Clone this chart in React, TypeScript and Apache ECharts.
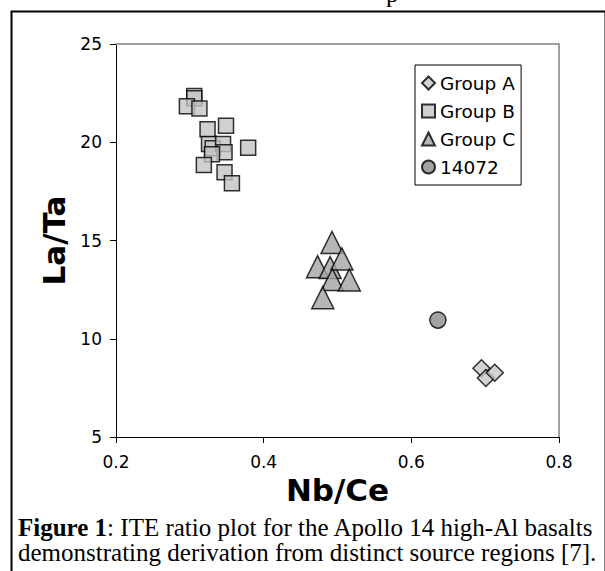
import React, { useEffect, useRef } from "react";
import * as echarts from "echarts";

const groupA: number[][] = [
  [0.695, 8.5],
  [0.701, 8.0],
  [0.713, 8.27],
];
const groupB: number[][] = [
  [0.306, 22.35],
  [0.306, 22.24],
  [0.296, 21.83],
  [0.313, 21.72],
  [0.324, 20.66],
  [0.349, 20.84],
  [0.326, 19.91],
  [0.331, 19.69],
  [0.345, 19.91],
  [0.347, 19.49],
  [0.33, 19.39],
  [0.379, 19.72],
  [0.319, 18.84],
  [0.347, 18.47],
  [0.357, 17.91],
];
const groupC: number[][] = [
  [0.4926, 14.9],
  [0.473, 13.67],
  [0.49, 13.62],
  [0.506, 14.06],
  [0.493, 13.01],
  [0.516, 12.99],
  [0.48, 12.09],
];
const sample14072: number[][] = [[0.636, 10.95]];

const seriesNames = ["Group A", "Group B", "Group C", "14072"];
const xTicks = { min: 0.2, max: 0.8, interval: 0.2 };
const yTicks = { min: 5, max: 25, interval: 5 };
const xTitle = "Nb/Ce";
const yTitle = "La/Ta";
const captionBold = "Figure 1";
const captionLine1 = ": ITE ratio plot for the Apollo 14 high-Al basalts";
const captionLine2 = "demonstrating derivation from distinct source regions [7].";
const clippedText = "p";

export default function App() {
  const ref = useRef<HTMLDivElement>(null);
  useEffect(() => {
    if (!ref.current) return;
    const chart = echarts.init(ref.current, undefined, { renderer: "svg" });
    const tickFont = { fontFamily: "DejaVu Sans", fontSize: 17, color: "#000" };
    const border = { borderColor: "#000", borderWidth: 1.5 };
    chart.setOption({
      animation: false,
      backgroundColor: "#fff",
      grid: { left: 116, top: 44, right: 46, bottom: 134, containLabel: false },
      xAxis: [
        {
          type: "value",
          min: xTicks.min,
          max: xTicks.max,
          interval: xTicks.interval,
          axisLine: { show: true, onZero: false, lineStyle: { color: "#000", width: 1 } },
          axisTick: { show: true, length: 6, lineStyle: { color: "#000" } },
          axisLabel: { ...tickFont, margin: 16, formatter: (v: number) => v.toFixed(1) },
          splitLine: { show: false },
          name: xTitle,
          nameLocation: "middle",
          nameGap: 35,
          nameTextStyle: { fontFamily: "DejaVu Sans", fontWeight: "bold", fontSize: 31, color: "#000" },
        },
        {
          type: "value",
          position: "top",
          min: xTicks.min,
          max: xTicks.max,
          axisLine: { show: true, onZero: false, lineStyle: { color: "#a0a0a0", width: 2 } },
          axisTick: { show: false },
          axisLabel: { show: false },
          splitLine: { show: false },
        },
      ],
      yAxis: [
        {
          type: "value",
          min: yTicks.min,
          max: yTicks.max,
          interval: yTicks.interval,
          axisLine: { show: true, onZero: false, lineStyle: { color: "#000", width: 1 } },
          axisTick: { show: true, length: 6, lineStyle: { color: "#000" } },
          axisLabel: { ...tickFont, margin: 14 },
          splitLine: { show: false },
          name: yTitle,
          nameLocation: "middle",
          nameGap: 46,
          nameRotate: 90,
          nameTextStyle: { fontFamily: "DejaVu Sans", fontWeight: "bold", fontSize: 31, color: "#000" },
        },
        {
          type: "value",
          position: "right",
          min: yTicks.min,
          max: yTicks.max,
          axisLine: { show: true, onZero: false, lineStyle: { color: "#a0a0a0", width: 2 } },
          axisTick: { show: false },
          axisLabel: { show: false },
          splitLine: { show: false },
        },
      ],
      legend: {
        show: true,
        orient: "vertical",
        left: 415,
        top: 65,
        padding: [8, 6, 8, 6],
        itemGap: 8,
        itemWidth: 13,
        itemHeight: 13,
        borderColor: "#000",
        borderWidth: 1,
        backgroundColor: "#fff",
        textStyle: { fontFamily: "DejaVu Sans", fontSize: 18.5, lineHeight: 20, color: "#000" },
        data: seriesNames,
      },
      series: [
        {
          name: seriesNames[0],
          type: "scatter",
          symbol: "diamond",
          symbolSize: 17,
          itemStyle: { color: "#c8c8c8", ...border },
          data: groupA,
        },
        {
          name: seriesNames[1],
          type: "scatter",
          symbol: "rect",
          symbolSize: 15,
          itemStyle: { color: "#c4c4c4", ...border },
          data: groupB,
        },
        {
          name: seriesNames[2],
          type: "scatter",
          symbol: "triangle",
          symbolSize: 22,
          itemStyle: { color: "#a4a4a4", ...border },
          data: groupC,
        },
        {
          name: seriesNames[3],
          type: "scatter",
          symbol: "circle",
          symbolSize: 16,
          itemStyle: { color: "#8c8c8c", ...border },
          data: sample14072,
        },
      ],
      graphic: [
        {
          type: "rect",
          left: 9,
          top: 9,
          shape: { x: 0, y: 0, width: 594, height: 570 },
          style: { fill: "none", stroke: "#000", lineWidth: 2 },
          silent: true,
        },
        {
          type: "text",
          x: 386,
          y: 6,
          style: {
            text: clippedText,
            fontFamily: "Liberation Serif",
            fontSize: 25,
            verticalAlign: "bottom",
            fill: "#000",
          },
          silent: true,
        },
        {
          type: "text",
          left: 18,
          top: 515,
          style: {
            text: `{b|${captionBold}}{r|${captionLine1}}\n{r|${captionLine2}}`,
            rich: {
              b: { fontFamily: "Liberation Serif", fontWeight: "bold", fontSize: 25, lineHeight: 25, fill: "#000" },
              r: { fontFamily: "Liberation Serif", fontSize: 25, lineHeight: 25, fill: "#000" },
            },
          },
        },
      ],
    });
    return () => chart.dispose();
  }, []);
  return (
    <div
      ref={ref}
      style={{ position: "absolute", left: 0, top: 0, width: 605, height: 571, background: "#fff" }}
    />
  );
}
